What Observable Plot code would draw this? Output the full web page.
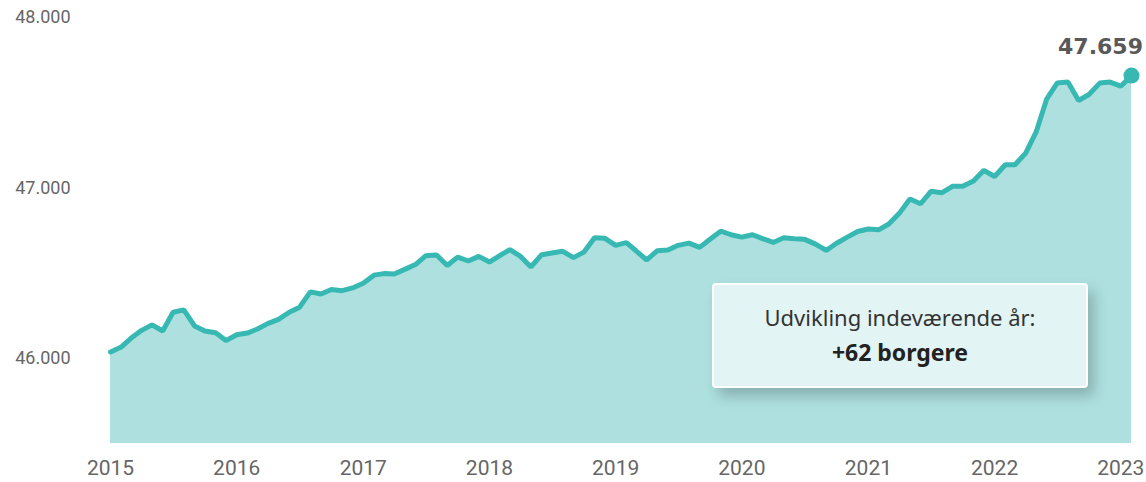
<!DOCTYPE html>
<html>
<head>
<meta charset="utf-8">
<script src="https://cdn.jsdelivr.net/npm/d3@7"></script>
<script src="https://cdn.jsdelivr.net/npm/@observablehq/plot@0.6"></script>
<style>
  html, body { margin: 0; padding: 0; background: #ffffff; }
  #wrap { position: relative; width: 1146px; height: 482px; overflow: hidden; }
  #card {
    position: absolute; left: 712px; top: 283px; width: 372px; height: 101px;
    background: #e3f4f4; border: 2px solid #ffffff; border-radius: 4px;
    box-shadow: 6px 8px 14px rgba(0,0,0,0.22);
    font-family: "Noto Sans", "Open Sans", sans-serif; color: #333;
    text-align: center; box-sizing: content-box;
  }
  #card .l1 { position: absolute; left: 0; right: 0; top: 17px; font-size: 22px; line-height: 30px; color: #333; }
  #card .l2 { position: absolute; left: 0; right: 0; top: 51px; font-size: 23px; line-height: 32px; font-weight: bold; color: #222; }
</style>
</head>
<body>
<div id="wrap">
  <div id="chart"></div>
  <div id="card"><div class="l1"></div><div class="l2"></div></div>
</div>
<script>
// Monthly population, first month = January 2015
const startMonth = "2015-01-01";
const population = [
  46037, 46066, 46117, 46164, 46196, 46160, 46270, 46284, 46190, 46160, 46150, 46104,
  46138, 46148, 46172, 46205, 46228, 46270, 46300, 46390, 46377, 46404, 46397, 46413,
  46440, 46488, 46497, 46495, 46522, 46550, 46602, 46606, 46545, 46594, 46571, 46598,
  46565, 46604, 46638, 46598, 46536, 46608, 46618, 46628, 46591, 46623, 46707, 46704,
  46663, 46679, 46631, 46577, 46631, 46636, 46663, 46676, 46651, 46699, 46746, 46725,
  46711, 46725, 46702, 46680, 46707, 46702, 46698, 46670, 46633, 46675, 46711, 46744,
  46759, 46755, 46788, 46852, 46935, 46907, 46980, 46971, 47009, 47009, 47040, 47103,
  47067, 47136, 47136, 47204, 47327, 47523, 47615, 47621, 47513, 47548, 47615, 47621,
  47597, 47659
];
const yearLabels = ["2015","2016","2017","2018","2019","2020","2021","2022","2023"];
const yTicks = [46000, 47000, 48000];
const yDomain = [45500, 48000];
const cardLines = ["Udvikling indeværende år:", "+62 borgere"];

document.querySelector("#card .l1").textContent = cardLines[0];
document.querySelector("#card .l2").textContent = cardLines[1];

const start = new Date(startMonth);
const data = population.map((v, i) => ({ date: d3.utcMonth.offset(start, i), value: v }));
const last = data[data.length - 1];
const yearTicks = yearLabels.map(y => new Date(Date.UTC(+y, 0, 1)));
const fmt = d => d3.format(",")(d).replace(/,/g, ".");

const chart = Plot.plot({
  width: 1146,
  height: 482,
  marginLeft: 110,
  marginRight: 15,
  marginTop: 17,
  marginBottom: 39,
  style: { fontFamily: "Roboto, sans-serif", color: "#666", background: "transparent" },
  x: { type: "utc", domain: [data[0].date, last.date] },
  y: { domain: yDomain },
  marks: [
    Plot.areaY(data, { x: "date", y1: yDomain[0], y2: "value", fill: "#aee0e0" }),
    Plot.line(data, { x: "date", y: "value", stroke: "#37b8b3", strokeWidth: 5, strokeLinejoin: "miter" }),
    Plot.dot([last], { x: "date", y: "value", r: 8, fill: "#37b8b3" }),
    Plot.text([last], { x: "date", y: "value", text: d => fmt(d.value), dx: -31, dy: -29,
      fontFamily: "DejaVu Sans", fontWeight: "bold", fontSize: 22, fill: "#595959" }),
    Plot.axisY({ ticks: yTicks, tickSize: 0, tickPadding: 40, tickFormat: fmt, fontSize: 18, fill: "#666", label: null }),
    Plot.axisX({ ticks: yearTicks, tickSize: 0, tickPadding: 17, tickFormat: (d, i) => yearLabels[i], fontSize: 21, fill: "#666", label: null })
  ]
});
document.getElementById("chart").appendChild(chart);
</script>
</body>
</html>
